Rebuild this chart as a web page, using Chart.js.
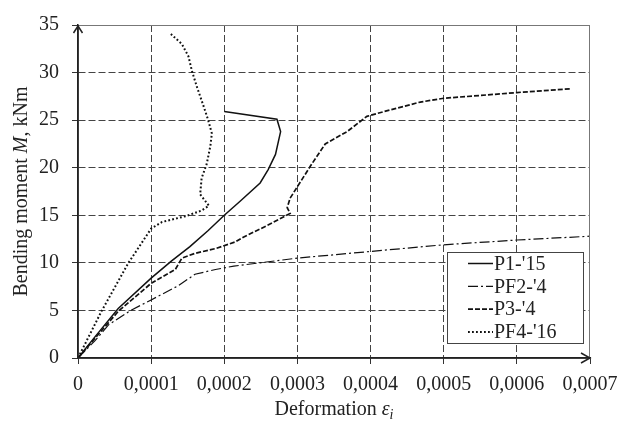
<!DOCTYPE html>
<html><head><meta charset="utf-8">
<script src="https://cdn.jsdelivr.net/npm/chart.js@4.4.0/dist/chart.umd.min.js"></script>
<style>html,body{margin:0;padding:0;background:#fff}#wrap{width:630px;height:433px;position:relative}</style>
</head><body><div id="wrap"><canvas id="c"></canvas></div>
<script>
// ---- data ----
const seriesLabels = ["P1-'15", "PF2-'4", "P3-'4", "PF4-'16"];

const p1X = [0, 0.000024, 0.000055, 0.0001, 0.000128, 0.000153, 0.000178, 0.0002, 0.000222, 0.000249, 0.000260, 0.000270, 0.000277, 0.000272, 0.0002];
const p1Y = [0, 2.3, 5.2, 8.4, 10.2, 11.7, 13.4, 15.0, 16.5, 18.4, 19.8, 21.4, 23.8, 25.1, 25.9];

const pf2X = [0, 0.000023, 0.000042, 0.000072, 0.0001, 0.000137, 0.00016, 0.000188, 0.000213, 0.0003, 0.0004, 0.0005, 0.0006, 0.0007];
const pf2Y = [0, 1.8, 3.5, 5.0, 6.1, 7.6, 8.8, 9.3, 9.66, 10.5, 11.2, 11.9, 12.4, 12.8];

const p3X = [0, 0.000055, 0.0001, 0.000133, 0.000142, 0.00016, 0.000188, 0.000215, 0.000226, 0.000258, 0.00029, 0.000286, 0.00029, 0.000304, 0.000318, 0.000338, 0.000368, 0.000395, 0.000423, 0.000468, 0.0005, 0.000551, 0.0006, 0.000674];
const p3Y = [0, 4.9, 7.85, 9.3, 10.5, 11.0, 11.5, 12.2, 12.7, 13.9, 15.2, 15.8, 16.8, 18.5, 20.2, 22.5, 23.8, 25.4, 26.0, 26.9, 27.3, 27.6, 27.9, 28.3];

const pf4X = [0, 0.000032, 0.000069, 0.0001, 0.000115, 0.000147, 0.000169, 0.000179, 0.000167, 0.000169, 0.000176, 0.000181, 0.000183, 0.000178, 0.000172, 0.000163, 0.000156, 0.000151, 0.000142, 0.000127];
const pf4Y = [0, 4.9, 10.0, 13.6, 14.3, 14.9, 15.5, 16.0, 17.2, 18.9, 20.4, 22.3, 23.6, 25.0, 26.4, 28.4, 30.1, 31.7, 33.0, 34.05];

const xMin = 0, xMax = 0.0007, xStep = 0.0001;
const yMin = 0, yMax = 35, yStep = 5;
const xTitle = ["Deformation ", "ε", "i"];
const yTitle = ["Bending moment ", "M", ", kNm"];

// ---- styles ----
const FONT = "'Liberation Serif', 'Times New Roman', serif";
const TXT = '#222';
const styles = [
  {dash: [], width: 1.5},
  {dash: [10, 3, 2, 3], width: 1.2},
  {dash: [5, 2], width: 1.7},
  {dash: [1.8, 2.2], width: 2}
];
const toPts = (xs, ys) => xs.map((x, i) => ({x, y: ys[i]}));
const allX = [p1X, pf2X, p3X, pf4X], allY = [p1Y, pf2Y, p3Y, pf4Y];

const datasets = seriesLabels.map((lab, i) => ({
  label: lab,
  data: toPts(allX[i], allY[i]),
  showLine: true,
  borderColor: '#111',
  backgroundColor: '#111',
  borderWidth: styles[i].width,
  borderDash: styles[i].dash,
  borderCapStyle: 'butt',
  pointRadius: 0,
  tension: 0,
  fill: false
}));

const deco = {
  id: 'deco',
  afterDraw(chart) {
    const {ctx, chartArea: a} = chart;
    ctx.save();
    // frame top/right
    ctx.strokeStyle = '#777'; ctx.lineWidth = 1; ctx.setLineDash([]);
    ctx.beginPath(); ctx.moveTo(a.left, a.top + 0.5); ctx.lineTo(a.right, a.top + 0.5);
    ctx.moveTo(a.right - 0.5, a.top); ctx.lineTo(a.right - 0.5, a.bottom); ctx.stroke();
    // axes redraw + arrows
    ctx.strokeStyle = '#222'; ctx.lineWidth = 1.5;
    ctx.beginPath(); ctx.moveTo(a.left, a.bottom); ctx.lineTo(a.left, a.top);
    ctx.moveTo(a.left, a.bottom); ctx.lineTo(a.right, a.bottom); ctx.stroke();
    ctx.beginPath();
    ctx.moveTo(a.left - 4.5, a.top + 8); ctx.lineTo(a.left, a.top + 1); ctx.lineTo(a.left + 4.5, a.top + 8);
    ctx.moveTo(a.right - 9, a.bottom - 5); ctx.lineTo(a.right, a.bottom); ctx.lineTo(a.right - 9, a.bottom + 5);
    ctx.stroke();

    // x title
    ctx.fillStyle = TXT; ctx.textBaseline = 'middle'; ctx.textAlign = 'left';
    const reg = '20px ' + FONT, ita = 'italic 20px ' + FONT, sub = 'italic 14px ' + FONT;
    ctx.font = reg; const w1 = ctx.measureText(xTitle[0]).width;
    ctx.font = ita; const w2 = ctx.measureText(xTitle[1]).width;
    ctx.font = sub; const w3 = ctx.measureText(xTitle[2]).width;
    let x = (a.left + a.right) / 2 - (w1 + w2 + w3) / 2, y = 410;
    ctx.font = reg; ctx.fillText(xTitle[0], x, y); x += w1;
    ctx.font = ita; ctx.fillText(xTitle[1], x, y); x += w2;
    ctx.font = sub; ctx.fillText(xTitle[2], x, y + 5);

    // y title (rotated)
    ctx.save();
    ctx.translate(22, (a.top + a.bottom) / 2);
    ctx.rotate(-Math.PI / 2);
    ctx.font = reg; const v1 = ctx.measureText(yTitle[0]).width;
    ctx.font = ita; const v2 = ctx.measureText(yTitle[1]).width;
    ctx.font = reg; const v3 = ctx.measureText(yTitle[2]).width;
    let t = -(v1 + v2 + v3) / 2;
    ctx.font = reg; ctx.fillText(yTitle[0], t, 0); t += v1;
    ctx.font = ita; ctx.fillText(yTitle[1], t, 0); t += v2;
    ctx.font = reg; ctx.fillText(yTitle[2], t, 0);
    ctx.restore();

    // legend
    const bx = 447, by = 252, bw = 136, bh = 91;
    ctx.fillStyle = '#fff'; ctx.fillRect(bx, by, bw, bh);
    ctx.strokeStyle = '#444'; ctx.lineWidth = 1; ctx.setLineDash([]);
    ctx.strokeRect(bx + 0.5, by + 0.5, bw, bh);
    chart.data.datasets.forEach((ds, i) => {
      const cy = by + 11.5 + i * 22.8;
      ctx.strokeStyle = '#111'; ctx.lineWidth = ds.borderWidth; ctx.setLineDash(ds.borderDash);
      ctx.lineCap = 'butt';
      ctx.beginPath(); ctx.moveTo(468, cy); ctx.lineTo(493, cy); ctx.stroke();
      ctx.setLineDash([]);
      ctx.fillStyle = TXT; ctx.font = reg; ctx.textAlign = 'left'; ctx.textBaseline = 'middle';
      ctx.fillText(ds.label, 494, cy + 1);
    });
    ctx.restore();
  }
};

const gridColor = (c, max) => {
  const v = c.tick ? c.tick.value : 0;
  return (v <= 1e-12 || v >= max * 0.999) ? 'rgba(0,0,0,0)' : '#444';
};

new Chart(document.getElementById('c'), {
  type: 'scatter',
  data: {datasets},
  options: {
    responsive: true, maintainAspectRatio: false, animation: false,
    layout: {padding: {top: 16, right: 40, left: 0, bottom: 0}},
    plugins: {legend: {display: false}, tooltip: {enabled: false}},
    scales: {
      x: {
        type: 'linear', min: xMin, max: xMax,
        afterFit: s => { s.height = 75; },
        ticks: {stepSize: xStep, color: TXT, font: {family: FONT, size: 20}, padding: 9,
          maxRotation: 0, autoSkip: false,
          callback: v => Math.abs(v) < 1e-12 ? '0' : v.toFixed(4).replace('.', ',')},
        grid: {color: c => gridColor(c, xMax), lineWidth: 1, tickLength: 6, tickColor: '#333', tickWidth: 1},
        border: {display: true, color: '#222', width: 1.5, dash: [7, 3]}
      },
      y: {
        type: 'linear', min: yMin, max: yMax,
        afterFit: s => { s.width = 78; },
        ticks: {stepSize: yStep, color: TXT, font: {family: FONT, size: 20}, padding: 13},
        grid: {color: c => gridColor(c, yMax), lineWidth: 1, tickLength: 6, tickColor: '#333', tickWidth: 1},
        border: {display: true, color: '#222', width: 1.5, dash: [7, 3]}
      }
    }
  },
  plugins: [deco]
});
</script></body></html>
